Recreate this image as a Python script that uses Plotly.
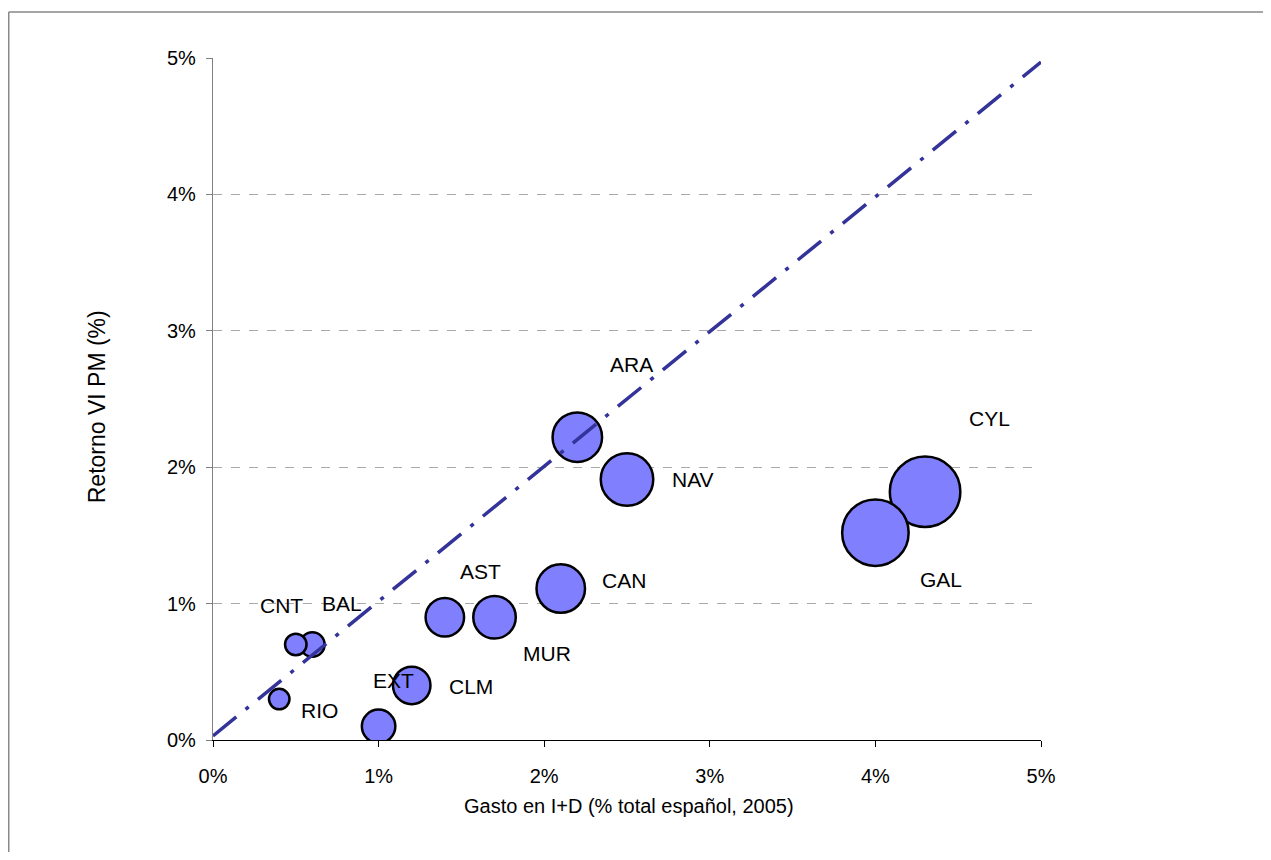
import plotly.graph_objects as go

# Data
regions = ["RIO", "CNT", "BAL", "EXT", "CLM", "AST", "MUR", "CAN", "ARA", "NAV", "GAL", "CYL"]
gasto = [0.4, 0.5, 0.6, 1.0, 1.2, 1.4, 1.7, 2.1, 2.2, 2.5, 4.0, 4.3]          # x, %
retorno = [0.30, 0.70, 0.70, 0.10, 0.40, 0.90, 0.90, 1.11, 2.22, 1.91, 1.52, 1.82]  # y, %
bubble = [23, 24, 27, 36, 40, 41, 45, 51, 52, 55, 69, 73]  # bubble size (relative)

# label offsets (pixels) relative to each bubble
label_dx = [40, -14, 30, 15, 59, 36, 52, 63, 54, 66, 66, 64]
label_dy = [-11, 39, 41, 46, -1, 46, -36, 8, 73, 0, -47, 73]

line_x = [0, 5]
line_y = [0.03, 4.97]

xticks = [0, 1, 2, 3, 4, 5]
xtick_text = ["0%", "1%", "2%", "3%", "4%", "5%"]
yticks = [0, 1, 2, 3, 4, 5]
ytick_text = ["0%", "1%", "2%", "3%", "4%", "5%"]

FONT = "Liberation Sans, Arial, sans-serif"
LW = 2.5

# Draw largest first so smaller bubbles are on top
order = sorted(range(len(regions)), key=lambda i: -bubble[i])

fig = go.Figure()
fig.add_trace(go.Scatter(
    x=[gasto[i] for i in order],
    y=[retorno[i] for i in order],
    mode="markers",
    marker=dict(size=[bubble[i] - LW for i in order], sizemode="diameter",
                color="#8080FF", opacity=1,
                line=dict(color="black", width=LW)),
    hoverinfo="skip",
    showlegend=False,
))
fig.add_trace(go.Scatter(
    x=line_x, y=line_y, mode="lines",
    line=dict(color="#333399", width=3.5, dash="30px,12px,4px,12px"),
    hoverinfo="skip", showlegend=False,
))

for i, r in enumerate(regions):
    fig.add_annotation(x=gasto[i], y=retorno[i], text=r, showarrow=False,
                       xshift=label_dx[i], yshift=label_dy[i],
                       font=dict(family=FONT, size=21, color="black"))

# axis titles
fig.add_annotation(xref="paper", yref="paper", x=-0.140, y=0.488, text="Retorno VI PM (%)",
                   xanchor="center", yanchor="middle",
                   textangle=-90, showarrow=False, font=dict(family=FONT, size=23, color="black"))
fig.add_annotation(xref="paper", yref="paper", x=0.502, y=-0.0968, text="Gasto en I+D (% total español, 2005)",
                   xanchor="center", yanchor="middle",
                   showarrow=False, font=dict(family=FONT, size=20, color="black"))

# outer border
fig.add_shape(type="line", xref="paper", yref="paper", x0=-0.2467, x1=1.6, y0=1.0675, y1=1.0675,
              line=dict(color="#888888", width=1.5))
fig.add_shape(type="line", xref="paper", yref="paper", x0=-0.2467, x1=-0.2467, y0=1.0675, y1=-0.4,
              line=dict(color="#888888", width=1.5))

fig.update_layout(
    width=1255, height=844,
    margin=dict(l=205, r=222, t=50, b=112, autoexpand=False),
    paper_bgcolor="white", plot_bgcolor="white",
    font=dict(family=FONT, size=20, color="black"),
    xaxis=dict(range=[0, 5], tickvals=xticks, ticktext=xtick_text, showgrid=False,
               zeroline=False, showline=True, linecolor="black", linewidth=1,
               ticks="outside", ticklen=6, tickcolor="black", ticklabelstandoff=12,
               tickfont=dict(family=FONT, size=20)),
    yaxis=dict(range=[0, 5], tickvals=yticks, ticktext=ytick_text, showgrid=True,
               gridcolor="#aaaaaa", griddash="dash", gridwidth=1,
               zeroline=False, showline=True, linecolor="#808080", linewidth=1.2,
               ticks="outside", ticklen=6, tickcolor="#808080", ticklabelstandoff=6,
               tickfont=dict(family=FONT, size=20)),
)

fig.write_html("out.html")
